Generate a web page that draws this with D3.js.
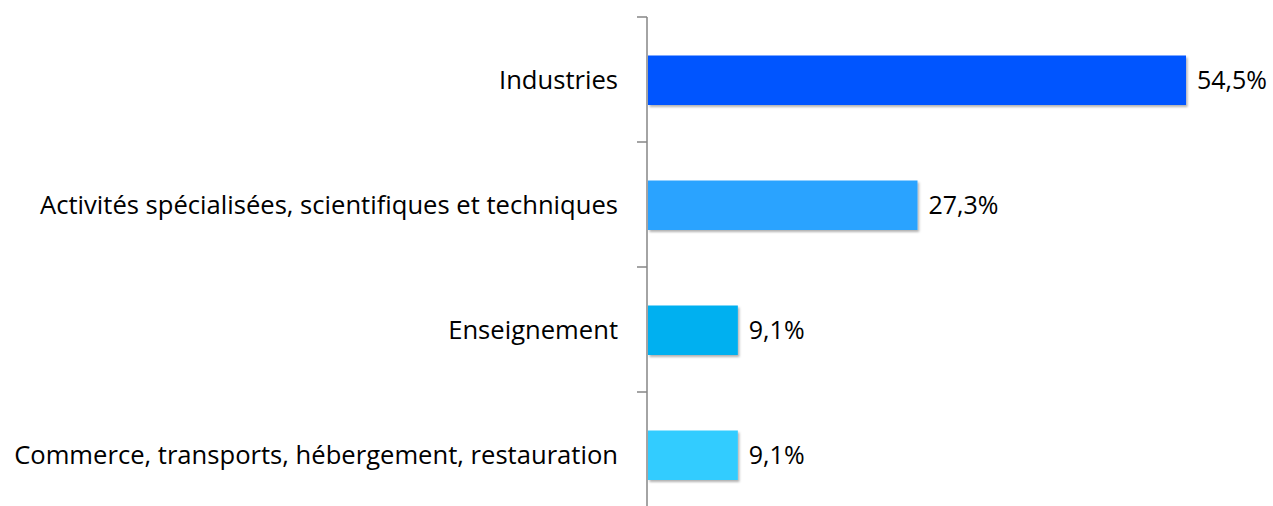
<!DOCTYPE html>
<html>
<head>
<meta charset="utf-8">
<script src="https://cdn.jsdelivr.net/npm/d3@7"></script>
<style>
  body { margin: 0; background: #fff; }
  svg text { font-family: "Open Sans", "Noto Sans", sans-serif; fill: #000; font-variant-ligatures: none; }
</style>
</head>
<body>
<script>
var categories = ["Industries", "Activités spécialisées, scientifiques et techniques", "Enseignement", "Commerce, transports, hébergement, restauration"];
var values = [54.5, 27.3, 9.1, 9.1];
var valueLabels = ["54,5%", "27,3%", "9,1%", "9,1%"];
var colors = ["#0055ff", "#29a3ff", "#00b0f0", "#33ccff"];

var width = 1273, height = 506;
var axisX = 647;

var svg = d3.select("body").append("svg").attr("width", width).attr("height", height);

// soft shadow under bars
var defs = svg.append("defs");
defs.append("filter").attr("id", "shadow")
  .attr("x", "-5%").attr("y", "-10%").attr("width", "115%").attr("height", "130%")
  .append("feDropShadow")
  .attr("dx", 1.5).attr("dy", 2).attr("stdDeviation", 1.2)
  .attr("flood-color", "#000").attr("flood-opacity", 0.3);

var y = d3.scaleBand()
  .domain(categories)
  .range([17, 517])
  .paddingInner(0.6)
  .paddingOuter(0.3);

var x = d3.scaleLinear()
  .domain([0, 60])
  .range([axisX + 1, axisX + 1 + 592.3]);

// bars
svg.append("g").selectAll("rect")
  .data(values)
  .enter().append("rect")
    .attr("x", x(0))
    .attr("y", function(d, i) { return y(categories[i]) + 1; })
    .attr("width", function(d) { return x(d) - x(0); })
    .attr("height", y.bandwidth() - 0.5)
    .attr("fill", function(d, i) { return colors[i]; })
    .attr("filter", "url(#shadow)");

// value labels
svg.append("g").selectAll("text")
  .data(values)
  .enter().append("text")
    .attr("x", function(d) { return x(d) + 11; })
    .attr("y", function(d, i) { return y(categories[i]) + y.bandwidth() / 2 + 1; })
    .attr("dy", "0.35em")
    .attr("font-size", 25)
    .text(function(d, i) { return valueLabels[i]; });

// axis line with ticks between categories
var axisG = svg.append("g");
axisG.append("line")
  .attr("x1", axisX).attr("x2", axisX)
  .attr("y1", 17).attr("y2", height)
  .attr("stroke", "#868686").attr("stroke-width", 1.5);

var step = y.step();
var tickYs = categories.map(function(c) { return y(c) - y.paddingInner() * step / 2; });
tickYs.push(y(categories[categories.length - 1]) + y.bandwidth() + y.paddingInner() * step / 2);
axisG.selectAll(".tick")
  .data(tickYs)
  .enter().append("line")
    .attr("class", "tick")
    .attr("x1", axisX - 10).attr("x2", axisX)
    .attr("y1", function(d) { return d; }).attr("y2", function(d) { return d; })
    .attr("stroke", "#868686").attr("stroke-width", 1.5);

// category labels
svg.append("g").selectAll("text")
  .data(categories)
  .enter().append("text")
    .attr("x", axisX - 29)
    .attr("y", function(d) { return y(d) + y.bandwidth() / 2 + 1; })
    .attr("dy", "0.35em")
    .attr("text-anchor", "end")
    .attr("font-size", 25.6)
    .text(function(d) { return d; });
</script>
</body>
</html>
